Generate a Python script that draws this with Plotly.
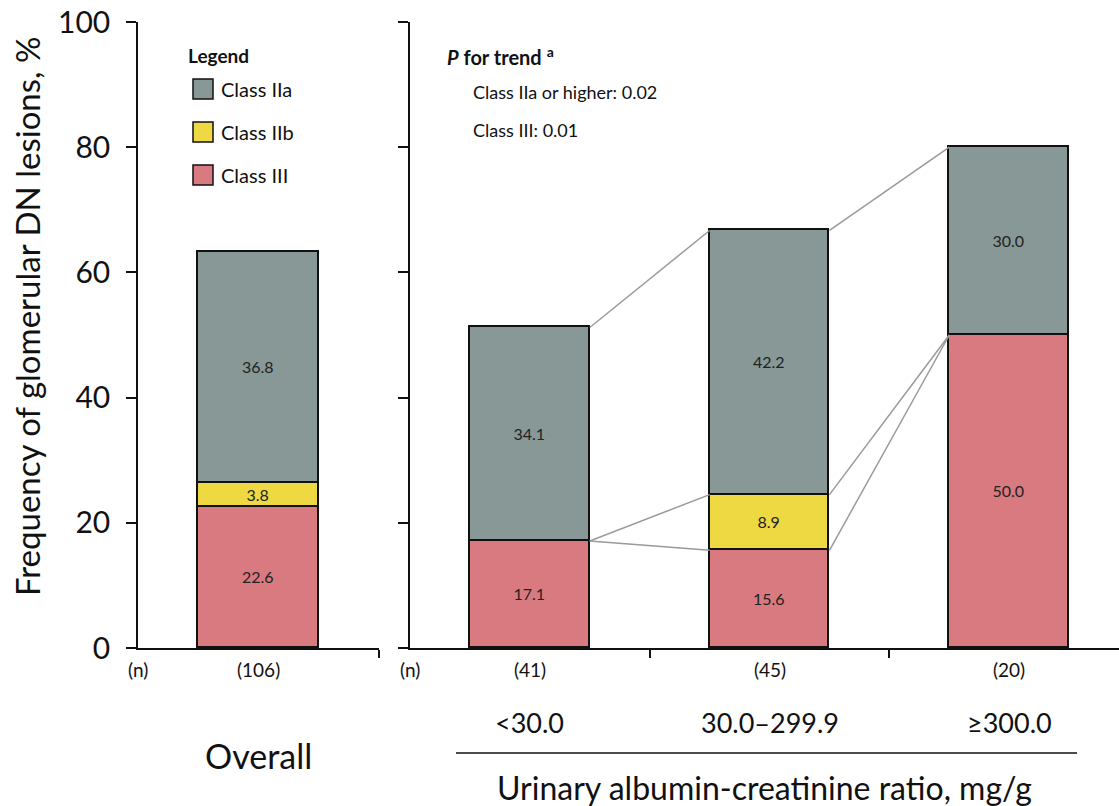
import plotly.graph_objects as go

# ---------------- data ----------------
overall_label = ["Overall"]
overall_n = ["(106)"]
overall_III = [22.6]
overall_IIb = [3.8]
overall_IIa = [36.8]

uacr_labels = ["<30.0", "30.0–299.9", "≥300.0"]
uacr_n = ["(41)", "(45)", "(20)"]
uacr_III = [17.1, 15.6, 50.0]
uacr_IIb = [0.0, 8.9, 0.0]
uacr_IIa = [34.1, 42.2, 30.0]

y_ticks = [0, 20, 40, 60, 80, 100]
class_names = ["Class IIa", "Class IIb", "Class III"]
p_trend = ["Class IIa or higher: 0.02", "Class III: 0.01"]

# ---------------- style ----------------
W, H = 1119, 806
FONT = "Lato, Carlito, Calibri, sans-serif"
C_IIA = "#879896"
C_IIB = "#EED943"
C_III = "#D87A80"
colors = {"Class IIa": C_IIA, "Class IIb": C_IIB, "Class III": C_III}
BAR_W = 0.5
INK = "#111111"

def px(x):
    return x / W

def py(y):
    return 1 - y / H

Y0, Y100 = 648, 22  # pixel rows of 0 and 100


fig = go.Figure()

def add_stack(xcats, III, IIb, IIa, xa, ya):
    for name, vals in (("Class III", III), ("Class IIb", IIb), ("Class IIa", IIa)):
        keep = [i for i, v in enumerate(vals) if v != 0]
        fig.add_trace(go.Bar(
            x=keep, y=[vals[i] for i in keep], width=BAR_W, name=name,
            marker=dict(color=colors[name], line=dict(color=INK, width=1.6)),
            text=[f"{vals[i]:.1f}" for i in keep], textposition="inside",
            insidetextanchor="middle", textangle=0, constraintext="none",
            textfont=dict(family=FONT, size=16, color="#222222"),
            xaxis=xa, yaxis=ya, showlegend=False, hoverinfo="skip",
        ))

add_stack(overall_label, overall_III, overall_IIb, overall_IIa, "x", "y")
add_stack(uacr_labels, uacr_III, uacr_IIb, uacr_IIa, "x2", "y2")

# connecting lines between adjacent bars (cumulative tops)
cum_III = uacr_III
cum_IIb = [a + b for a, b in zip(uacr_III, uacr_IIb)]
cum_IIa = [a + b + c for a, b, c in zip(uacr_III, uacr_IIb, uacr_IIa)]
for cum in (cum_III, cum_IIb, cum_IIa):
    for i in range(len(cum) - 1):
        fig.add_trace(go.Scatter(
            x=[i + BAR_W / 2, i + 1 - BAR_W / 2], y=[cum[i], cum[i + 1]],
            mode="lines", line=dict(color="#9a9a9a", width=1.5),
            xaxis="x2", yaxis="y2", showlegend=False, hoverinfo="skip",
        ))

ydom = [py(Y0), py(Y100)]
x1dom = [px(138), px(379)]
x2start = 410
cat_px = 239.7
x2range_end = -0.5 + (W - x2start) / cat_px

axis_common = dict(showline=True, linecolor=INK, linewidth=1.5,
                   showgrid=False, zeroline=False, automargin=False)

fig.update_layout(
    width=W, height=H,
    margin=dict(l=0, r=0, t=0, b=0, autoexpand=False),
    paper_bgcolor="white", plot_bgcolor="white",
    barmode="stack", bargap=0,
    font=dict(family=FONT, color=INK),
    xaxis=dict(domain=x1dom, range=[-0.5, 0.5], anchor="y",
               tickvals=[0.5], ticks="outside", ticklen=8, tickwidth=1.5,
               tickcolor=INK, showticklabels=False, **axis_common),
    yaxis=dict(domain=ydom, range=[0, 100], anchor="x", tickvals=y_ticks,
               ticks="outside", ticklen=10, tickwidth=1.5, tickcolor=INK,
               tickfont=dict(family=FONT, size=30, color=INK),
               ticklabelstandoff=10, **axis_common),
    xaxis2=dict(domain=[px(x2start), 1], range=[-0.5, x2range_end], anchor="y2",
                tickvals=[0.5, 1.5], ticks="outside", ticklen=8, tickwidth=1.5,
                tickcolor=INK, showticklabels=False, **axis_common),
    yaxis2=dict(domain=ydom, range=[0, 100], anchor="x2", tickvals=y_ticks,
                ticks="outside", ticklen=10, tickwidth=1.5, tickcolor=INK,
                showticklabels=False, **axis_common),
)

ann = []

def note(text, x, y, size, xref="paper", xanchor="center", **kw):
    ann.append(dict(text=text, x=x, y=py(y), xref=xref, yref="paper",
                    xanchor=xanchor, yanchor="middle", showarrow=False,
                    font=dict(size=size), **kw))

# y-axis title
note("Frequency of glomerular DN lesions, %", px(27), 317, 33, textangle=-90)
# (n) labels and counts
for xx in (138, 410):
    note("(n)", px(xx), 669, 19)
for i, n in enumerate(overall_n):
    note(n, i, 669, 19, xref="x")
    note(overall_label[i], i, 755, 34, xref="x")
for i, n in enumerate(uacr_n):
    note(n, i, 669, 19, xref="x2")
    note(uacr_labels[i], i, 722, 27, xref="x2")
note("Urinary albumin-creatinine ratio, mg/g", px(764), 787, 32)

# legend box
note("<b>Legend</b>", px(186), 56, 19, xanchor="left")
shapes = []
leg_y = [89, 132, 175]
for name, yy in zip(class_names, leg_y):
    shapes.append(dict(type="rect", xref="paper", yref="paper",
                       x0=px(193), x1=px(213), y0=py(yy + 10), y1=py(yy - 10),
                       fillcolor=colors[name], line=dict(color=INK, width=1.5)))
    note(name, px(219), yy, 20, xanchor="left")

# P for trend
note("<b><i>P</i> for trend</b> <sup><b>a</b></sup>", px(445), 56, 20, xanchor="left")
for t, yy in zip(p_trend, [92, 130]):
    note(t, px(471), yy, 18, xanchor="left")

# horizontal bracket line under category labels
shapes.append(dict(type="line", xref="paper", yref="paper",
                   x0=px(456), x1=px(1077), y0=py(753), y1=py(753),
                   line=dict(color=INK, width=1.5)))

fig.update_layout(annotations=ann, shapes=shapes)
fig.write_html("out.html", config={"displayModeBar": False},
               post_script="document.body.style.margin='0';document.body.style.overflow='hidden';")
